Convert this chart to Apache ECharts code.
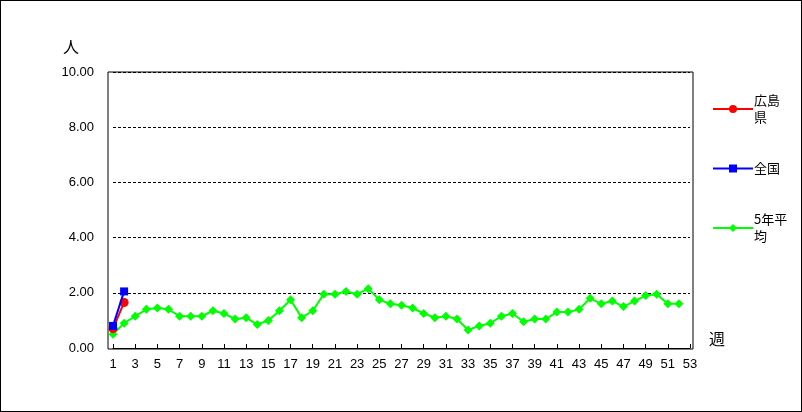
<!DOCTYPE html>
<html><head><meta charset="utf-8">
<script src="https://cdn.jsdelivr.net/npm/echarts@6/dist/echarts.min.js"></script>
<style>html,body{margin:0;padding:0;background:#fff}#c{width:802px;height:412px;box-sizing:border-box;border:1px solid #000}</style>
</head><body><div id="c"></div>
<script>
const weeks = Array.from({length:53},(_,i)=>String(i+1));
const hiroshima = [0.7,1.65];
const national = [0.8,2.05];
const avg5 = [0.5,0.9,1.15,1.4,1.45,1.4,1.15,1.15,1.15,1.35,1.25,1.05,1.1,0.85,1.0,1.35,1.75,1.1,1.35,1.95,1.95,2.05,1.95,2.15,1.75,1.6,1.55,1.45,1.25,1.1,1.15,1.05,0.65,0.8,0.9,1.15,1.25,0.95,1.05,1.05,1.3,1.3,1.4,1.8,1.6,1.7,1.5,1.7,1.9,1.95,1.6,1.6];
const font = {fontFamily:'"Liberation Sans", Arial, sans-serif', color:'#000', fontSize:13};
const chart = echarts.init(document.getElementById('c'));
chart.setOption({
  animation:false,
  grid:{left:112,right:111,top:71,bottom:63,show:false},
  graphic:[
    {type:'rect',shape:{x:107,y:71,width:585,height:277},style:{fill:'none',stroke:'#000',lineWidth:1},z:0},
    {type:'text',left:62,top:38,style:{text:'人',font:'16px "Noto Sans CJK JP"',fill:'#000'}},
    {type:'text',left:708,top:330,style:{text:'週',font:'16px "Noto Sans CJK JP"',fill:'#000'}}
  ],
  legend:{orient:'vertical',left:706,top:86,itemGap:34,itemWidth:40,itemHeight:10,
    textStyle:{fontFamily:'"Noto Sans CJK JP"',color:'#000',fontSize:13,lineHeight:17,padding:[0,0,0,-4]},
    formatter:n=>n==='広島県'?'広島\n県':(n==='5年平均'?'5年平\n均':n),
    data:['広島県','全国','5年平均']},
  xAxis:{type:'category',data:weeks,boundaryGap:false,
    axisLine:{lineStyle:{color:'#000'}},axisTick:{inside:true,length:4,lineStyle:{color:'#000'}},
    axisLabel:Object.assign({},font,{interval:1,margin:10})},
  yAxis:{type:'value',min:0,max:10,interval:2,
    axisLine:{show:false},axisTick:{show:false},
    axisLabel:Object.assign({},font,{formatter:v=>v.toFixed(2),margin:19}),
    splitLine:{lineStyle:{color:'#000',type:[3,2],width:1}}},
  series:[
    {name:'広島県',type:'line',data:hiroshima,symbol:'circle',symbolSize:9,showAllSymbol:true,color:'#ff0000',lineStyle:{width:2},z:4},
    {name:'全国',type:'line',data:national,symbol:'rect',symbolSize:8,showAllSymbol:true,color:'#0000ff',lineStyle:{width:2},z:5},
    {name:'5年平均',type:'line',data:avg5,symbol:'diamond',symbolSize:9,showAllSymbol:true,color:'#00ff00',lineStyle:{width:2},z:3}
  ]
});
</script></body></html>
